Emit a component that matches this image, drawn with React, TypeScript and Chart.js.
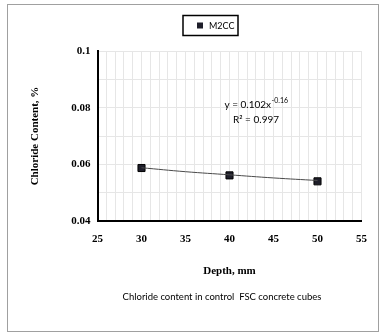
import React, { useEffect, useRef } from "react";
import { Chart, registerables } from "chart.js";

Chart.register(...registerables);

const depths = [30, 40, 50];
const chloride = [0.0587, 0.0561, 0.054];
const trendDepths = [30, 35, 40, 45, 50];
const trendValues = [0.0588, 0.0574, 0.0563, 0.0552, 0.0543];
const seriesName = "M2CC";
const equationMain = "y = 0.102x";
const equationExp = "-0.16";
const rSquared = "R² = 0.997";
const xTitle = "Depth, mm";
const yTitle = "Chloride Content, %";
const caption = "Chloride content in control  FSC concrete cubes";

const SERIF = "'Liberation Serif', 'DejaVu Serif', serif";
const SANS = "Lato, 'Open Sans', sans-serif";

const decor = {
  id: "decor",
  afterDraw(chart: any) {
    const ctx = chart.ctx;
    const area = chart.chartArea;
    ctx.save();
    // outer frame
    ctx.strokeStyle = "#a0a0a0";
    ctx.lineWidth = 1;
    ctx.strokeRect(7.5, 4.5, 371, 327);

    // legend box
    ctx.strokeStyle = "#000";
    ctx.lineWidth = 1.5;
    ctx.strokeRect(183, 15.5, 55, 20);
    ctx.fillStyle = "#1e1e2a";
    ctx.fillRect(197, 22.5, 6, 6);
    ctx.fillStyle = "#000";
    ctx.font = `9px ${SANS}`;
    ctx.textAlign = "left";
    ctx.textBaseline = "middle";
    ctx.fillText(seriesName, 209, 26);

    // equation
    ctx.font = `10px ${SANS}`;
    ctx.textBaseline = "alphabetic";
    ctx.textAlign = "left";
    const mainW = ctx.measureText(equationMain).width;
    ctx.font = `7px ${SANS}`;
    const expW = ctx.measureText(equationExp).width;
    const startX = 256 - (mainW + expW) / 2;
    ctx.font = `10px ${SANS}`;
    ctx.fillText(equationMain, startX, 108);
    ctx.font = `7px ${SANS}`;
    ctx.fillText(equationExp, startX + mainW + 0.5, 103);
    ctx.font = `10px ${SANS}`;
    ctx.textAlign = "center";
    ctx.fillText(rSquared, 256, 123);

    // axis titles
    ctx.font = `bold 11px ${SERIF}`;
    ctx.textAlign = "center";
    ctx.textBaseline = "middle";
    ctx.fillText(xTitle, (area.left + area.right) / 2, 271);
    ctx.save();
    ctx.translate(35, (area.top + area.bottom) / 2);
    ctx.rotate(-Math.PI / 2);
    ctx.fillText(yTitle, 0, 0);
    ctx.restore();

    // caption
    ctx.font = `9.5px ${SANS}`;
    ctx.fillText(caption, 222, 297);
    ctx.restore();
  },
};

export default function App() {
  const ref = useRef<HTMLCanvasElement | null>(null);
  useEffect(() => {
    if (!ref.current) return;
    const chart = new Chart(ref.current, {
      type: "scatter",
      data: {
        datasets: [
          {
            type: "line",
            label: "trend",
            data: trendDepths.map((x, i) => ({ x, y: trendValues[i] })),
            borderColor: "#4a4a4a",
            borderWidth: 1,
            pointRadius: 0,
            fill: false,
            tension: 0.4,
          } as any,
          {
            label: seriesName,
            data: depths.map((x, i) => ({ x, y: chloride[i] })),
            pointStyle: "rect",
            pointRadius: 5,
            pointBackgroundColor: "#1e1e2a",
            pointBorderColor: "#000",
            pointBorderWidth: 1,
          },
        ],
      },
      options: {
        responsive: false,
        animation: false,
        layout: { padding: { top: 51, left: 0, right: 20.5, bottom: 0 } },
        plugins: { legend: { display: false }, tooltip: { enabled: false } },
        scales: {
          x: {
            type: "linear",
            min: 25,
            max: 55,
            afterFit: (s: any) => {
              s.height = 112;
            },
            border: { color: "#000", width: 2 },
            grid: { color: "#e6e6e6", drawTicks: false, lineWidth: 1 },
            ticks: {
              stepSize: 1,
              autoSkip: false,
              maxRotation: 0,
              padding: 12,
              color: "#000",
              font: { family: SERIF, size: 11, weight: "bold" },
              callback: (v: any) => (Math.round(v) % 5 === 0 ? String(Math.round(v)) : ""),
            },
          },
          y: {
            type: "linear",
            min: 0.04,
            max: 0.1,
            afterFit: (s: any) => {
              s.width = 97.5;
            },
            border: { color: "#000", width: 2 },
            grid: { color: "#e6e6e6", drawTicks: false, lineWidth: 1 },
            ticks: {
              stepSize: 0.01,
              autoSkip: false,
              padding: 7,
              color: "#000",
              font: { family: SERIF, size: 11, weight: "bold" },
              callback: (v: any) => {
                const n = Math.round(v * 100);
                return n % 2 === 0 ? String(n / 100) : "";
              },
            },
          },
        },
      },
      plugins: [decor],
    });
    return () => chart.destroy();
  }, []);
  return (
    <div style={{ position: "absolute", left: 0, top: 0, width: 382, height: 333, background: "#fff" }}>
      <canvas ref={ref} width={382} height={333} />
    </div>
  );
}
